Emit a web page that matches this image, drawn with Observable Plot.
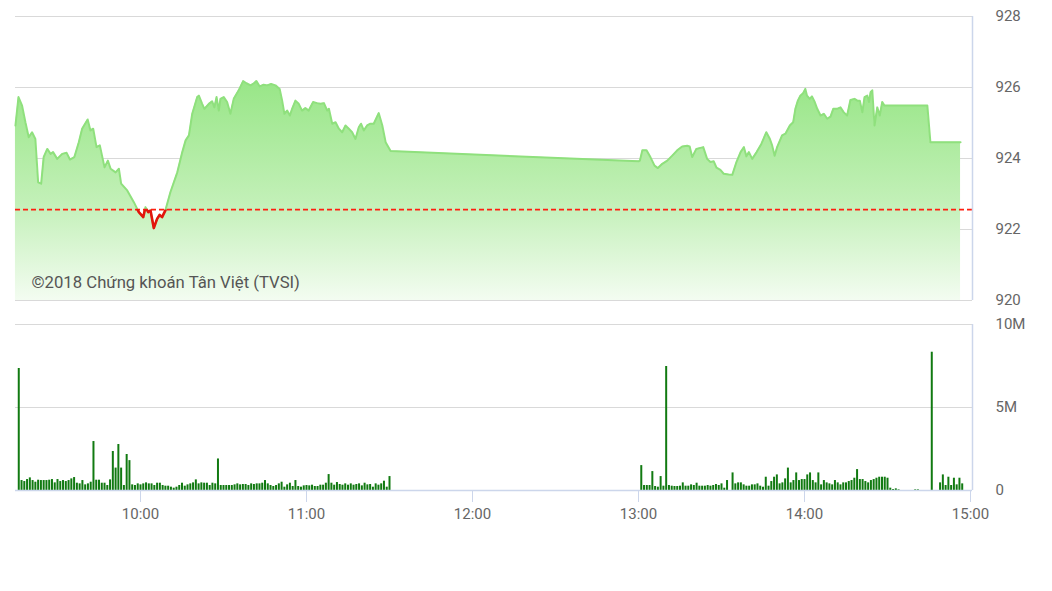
<!DOCTYPE html>
<html>
<head>
<meta charset="utf-8">
<script src="https://cdn.jsdelivr.net/npm/d3@7"></script>
<script src="https://cdn.jsdelivr.net/npm/@observablehq/plot@0.6"></script>
<style>
  html, body { margin: 0; padding: 0; background: #fff; }
  #chart svg { display: block; }
  #bottom g[aria-label="x-axis tick"] { stroke: #ccd6eb; }
  #bottom g[aria-label="x-axis"] line, #bottom g[aria-label="x-axis"] path { stroke: #ccd6eb; }
</style>
</head>
<body>
<div id="chart"><div id="top"></div><div id="bottom"></div></div>
<script>
// ---- Data (times are minutes since midnight) ----
const priceTimes = [
  554.8, 555.9, 557.2, 558.4, 559.6, 560.8, 562.0, 563.0, 564.1, 565.0,
  566.3, 567.5, 568.4, 569.9, 571.7, 573.3, 574.5, 576.1, 577.7, 578.9,
  580.9, 581.9, 582.9, 584.1, 585.3, 587.0, 588.2, 589.2, 591.0, 592.2,
  593.0, 595.2, 597.6, 599.4, 601.0, 601.8, 602.8, 603.6, 604.8, 606.0,
  606.9, 607.8, 609.0, 610.8, 613.3, 615.1, 616.3, 617.5, 618.7, 620.5,
  621.1, 622.3, 623.1, 624.7, 625.9, 626.7, 627.5, 628.3, 628.9, 630.1,
  631.3, 632.5, 633.7, 635.5, 637.1, 638.3, 639.8, 641.0, 641.9, 643.1,
  644.5, 645.8, 647.2, 648.8, 650.3, 651.2, 652.0, 653.0, 654.0, 654.8,
  656.0, 657.2, 658.4, 659.6, 660.8, 662.4, 663.8, 665.1, 666.3, 667.5,
  668.1, 669.3, 670.5, 671.7, 672.9, 674.1, 675.3, 676.5, 677.7, 678.9,
  679.7, 680.7, 681.9, 683.1, 684.3, 686.1, 687.4, 688.6, 690.4,
  780.0, 780.5, 781.4, 782.9, 784.3, 785.8, 787.0, 788.6, 790.4, 792.2,
  794.0, 795.8, 797.6, 798.5, 799.4, 800.9, 802.4, 803.4, 804.8, 806.0,
  807.2, 808.2, 809.6, 810.8, 812.6, 813.9, 815.4, 816.9, 818.1, 819.0,
  819.9, 821.1, 822.7, 824.4, 826.2, 827.5, 828.3, 829.2, 830.1, 831.9,
  833.1, 834.7, 835.9, 836.7, 837.6, 838.5, 839.5, 840.3, 840.9, 841.9,
  842.7, 843.6, 844.6, 845.8, 847.0, 848.2, 849.4, 850.4, 851.8, 853.0,
  854.2, 855.4, 856.6, 858.1, 859.1, 860.0, 860.9, 861.7, 862.7, 863.3,
  863.9, 864.5, 865.3, 866.3, 867.2, 868.1, 868.9, 884.4, 885.5, 896.4
];
const priceValues = [
  924.93, 925.73, 925.49, 925.02, 924.60, 924.74, 924.55, 923.33, 923.29, 924.04,
  924.27, 924.13, 924.18, 923.99, 924.13, 924.16, 923.97, 924.04, 924.46, 924.84,
  925.10, 924.79, 924.84, 924.32, 924.37, 923.75, 923.94, 923.71, 923.61, 923.71,
  923.29, 923.10, 922.77, 922.49, 922.35, 922.63, 922.49, 922.54, 922.04, 922.30,
  922.41, 922.35, 922.54, 923.05, 923.61, 924.18, 924.51, 924.65, 925.26, 925.73,
  925.77, 925.54, 925.40, 925.54, 925.61, 925.44, 925.73, 925.35, 925.68, 925.73,
  925.59, 925.26, 925.68, 925.92, 926.18, 926.12, 926.06, 926.12, 926.18, 926.03,
  926.08, 926.06, 926.10, 926.06, 925.96, 925.63, 925.26, 925.35, 925.21, 925.40,
  925.63, 925.54, 925.35, 925.42, 925.35, 925.59, 925.56, 925.54, 925.56, 925.35,
  925.40, 924.98, 925.02, 924.84, 924.74, 924.93, 924.84, 924.74, 924.55, 924.88,
  924.98, 924.79, 924.93, 924.98, 924.98, 925.28, 924.93, 924.46, 924.21,
  923.92, 923.94, 924.23, 924.23, 924.04, 923.80, 923.73, 923.85, 923.94, 924.08,
  924.23, 924.34, 924.36, 924.34, 924.04, 924.27, 924.30, 924.32, 923.99, 923.90,
  923.92, 923.74, 923.68, 923.57, 923.55, 923.54, 923.90, 924.18, 924.32, 924.06,
  924.18, 923.99, 924.18, 924.41, 924.74, 924.55, 924.37, 924.08, 924.32, 924.65,
  924.70, 924.93, 925.02, 925.40, 925.63, 925.77, 925.84, 925.96, 925.77, 925.68,
  925.75, 925.61, 925.40, 925.21, 925.26, 925.12, 925.18, 925.40, 925.40, 925.44,
  925.30, 925.21, 925.65, 925.68, 925.63, 925.63, 925.30, 925.73, 925.77, 925.59,
  925.87, 925.92, 924.93, 925.44, 925.21, 925.59, 925.49, 925.49, 924.46, 924.46
];
const referencePrice = 922.56;

// Volume in millions of shares, one value per minute
const morningVolumeStart = "09:16";
const morningVolume = [
  7.35, 0.6, 0.54, 0.66, 0.76, 0.6, 0.5, 0.62, 0.6, 0.6,
  0.6, 0.62, 0.66, 0.46, 0.66, 0.54, 0.6, 0.54, 0.6, 0.7,
  0.78, 0.44, 0.4, 0.6, 0.34, 0.4, 0.5, 2.95, 0.62, 0.62,
  0.44, 0.44, 0.3, 0.64, 2.35, 1.35, 2.77, 1.35, 0.3, 2.17,
  1.8, 0.34, 0.3, 0.4, 0.34, 0.4, 0.46, 0.4, 0.4, 0.3,
  0.44, 0.44, 0.3, 0.26, 0.26, 0.2, 0.14, 0.2, 0.3, 0.44,
  0.26, 0.34, 0.4, 0.46, 0.64, 0.4, 0.46, 0.44, 0.44, 0.3,
  0.44, 0.4, 1.9, 0.3, 0.3, 0.3, 0.3, 0.3, 0.34, 0.4,
  0.34, 0.36, 0.36, 0.3, 0.4, 0.36, 0.4, 0.4, 0.44, 0.6,
  0.4, 0.3, 0.24, 0.3, 0.4, 0.5, 0.2, 0.34, 0.44, 0.24,
  0.6, 0.24, 0.2, 0.28, 0.3, 0.28, 0.32, 0.24, 0.24, 0.32,
  0.32, 0.44, 0.96, 0.44, 0.32, 0.48, 0.36, 0.32, 0.4, 0.32,
  0.4, 0.32, 0.36, 0.4, 0.28, 0.44, 0.34, 0.36, 0.2, 0.4,
  0.32, 0.4, 0.56, 0.2, 0.84
];
const afternoonVolumeStart = "13:01";
const afternoonVolume = [
  1.5, 0.3, 0.3, 0.3, 1.14, 0.24, 0.2, 0.84, 0.26, 7.47,
  0.3, 0.26, 0.24, 0.24, 0.26, 0.46, 0.26, 0.26, 0.34, 0.3,
  0.44, 0.26, 0.26, 0.26, 0.3, 0.26, 0.3, 0.36, 0.3, 0.4,
  0.14, 0.6, 0, 1.06, 0.4, 0.46, 0.46, 0.34, 0.26, 0.26,
  0.34, 0.34, 0.4, 0.26, 0.2, 0.8, 0.26, 0.54, 0.8, 0.94,
  0.4, 0.46, 0.7, 1.35, 0.46, 0.6, 1.06, 0.6, 0.66, 0.66,
  0.94, 1.06, 0.6, 0.46, 1.06, 0.34, 0.6, 0.46, 0.4, 0.34,
  0.6, 0.46, 0.34, 0.46, 0.46, 0.54, 0.6, 0.74, 1.26, 0.66,
  0.66, 0.54, 0.46, 0.6, 0.66, 0.74, 0.8, 0.8, 0.8, 0.74,
  0.14, 0.06, 0.1, 0.04, 0, 0, 0, 0, 0, 0.04,
  0.04, 0, 0, 0, 0, 8.33, 0, 0, 0.46, 0.94,
  0.3, 0.8, 0.3, 0.74, 0.34, 0.74, 0.4
];

const priceTicks = [920, 922, 924, 926, 928];
const volumeTicks = [0, 5, 10];
const timeTicks = ["10:00", "11:00", "12:00", "13:00", "14:00", "15:00"];
const watermark = "©2018 Chứng khoán Tân Việt (TVSI)";

// ---- Helpers ----
const dayStart = Date.UTC(2018, 0, 1);
const toDate = m => new Date(dayStart + Math.round(m * 60000));
const hmToMin = s => { const [h, m] = s.split(":").map(Number); return h * 60 + m; };

const price = priceTimes.map((m, i) => ({t: toDate(m), v: priceValues[i]}));
const volume = [
  ...morningVolume.map((v, i) => ({t: toDate(hmToMin(morningVolumeStart) + i), v})),
  ...afternoonVolume.map((v, i) => ({t: toDate(hmToMin(afternoonVolumeStart) + i), v}))
].filter(d => d.v > 0);

const xDomain = [toDate(554.82), toDate(900.72)];
const W = 1052;
const font = "Roboto, 'Noto Sans', sans-serif";
const RED = "#e3140c";
const REF_RED = "#ff1e10";

const topChart = Plot.plot({
  width: W, height: 310,
  marginTop: 16, marginBottom: 10, marginLeft: 15, marginRight: 80,
  style: {fontFamily: font, fontSize: "15px", color: "#666", background: "#fff", overflow: "visible"},
  x: {type: "utc", domain: xDomain, axis: null, label: null},
  y: {domain: [priceTicks[0], priceTicks[priceTicks.length - 1]], axis: "right", ticks: priceTicks,
      tickSize: 0, tickPadding: 23, tickFormat: d => String(d), label: null},
  marks: [
    Plot.ruleY(priceTicks, {stroke: "#d9d9d9", strokeWidth: 1}),
    Plot.areaY(price, {x: "t", y1: priceTicks[0], y2: "v", fill: "url(#priceFill)", curve: "linear"}),
    Plot.line(price, {x: "t", y: "v", stroke: "#8fe07d", strokeWidth: 2}),
    Plot.ruleY([referencePrice], {stroke: REF_RED, strokeWidth: 1.6, strokeDasharray: "5,3"}),
    Plot.line(price, {x: "t", y: "v", stroke: RED, strokeWidth: 2.6}),
    Plot.ruleX([xDomain[1]], {stroke: "#ccd6eb", strokeWidth: 1.5}),
    Plot.text([watermark], {text: d => d, frameAnchor: "bottom-left", dx: 16, dy: -13,
      textAnchor: "start", fontSize: 16.7, fill: "#555"})
  ]
});

// gradient fill and clip the red line to the part below the reference level
const ns = "http://www.w3.org/2000/svg";
const defs = document.createElementNS(ns, "defs");
const yRef = topChart.scale("y").apply(referencePrice);
defs.innerHTML =
  `<linearGradient id="priceFill" x1="0" y1="0" x2="0" y2="1">
     <stop offset="0" stop-color="#98e687"/>
     <stop offset="0.55" stop-color="#c2f0b7"/>
     <stop offset="1" stop-color="#f3fcf1"/>
   </linearGradient>
   <clipPath id="belowRef"><rect x="0" y="${yRef}" width="${W}" height="${310 - yRef}"/></clipPath>`;
topChart.insertBefore(defs, topChart.firstChild);
topChart.querySelectorAll(`[stroke="${RED}"]`).forEach(el => el.setAttribute("clip-path", "url(#belowRef)"));
document.getElementById("top").appendChild(topChart);

const bottomChart = Plot.plot({
  width: W, height: 281,
  marginTop: 14, marginBottom: 101, marginLeft: 15, marginRight: 80,
  style: {fontFamily: font, fontSize: "15px", color: "#666", background: "#fff", overflow: "visible"},
  x: {type: "utc", domain: xDomain, ticks: timeTicks.map(s => toDate(hmToMin(s))),
      tickSize: 12, tickPadding: 6, tickFormat: d3.utcFormat("%H:%M"), label: null},
  y: {domain: [volumeTicks[0], volumeTicks[volumeTicks.length - 1]], axis: "right", ticks: volumeTicks,
      tickSize: 0, tickPadding: 23, tickFormat: d => d === 0 ? "0" : d + "M", label: null},
  marks: [
    Plot.ruleY(volumeTicks.filter(d => d > 0), {stroke: "#d9d9d9", strokeWidth: 1}),
    Plot.ruleX(volume, {x: "t", y1: 0, y2: "v", stroke: "#117a11", strokeWidth: 2}),
    Plot.ruleY([0], {stroke: "#ccd6eb", strokeWidth: 1.5}),
    Plot.ruleX([xDomain[1]], {stroke: "#ccd6eb", strokeWidth: 1.5})
  ]
});
document.getElementById("bottom").appendChild(bottomChart);
</script>
</body>
</html>
